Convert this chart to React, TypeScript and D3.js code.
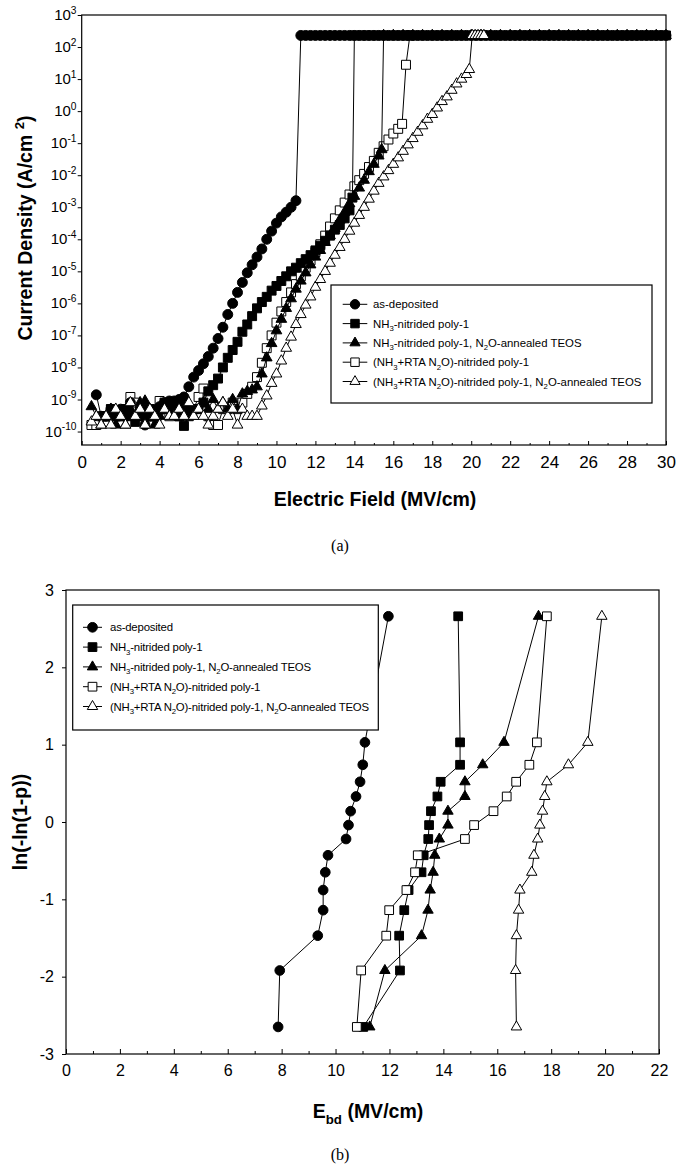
import { useEffect, useRef } from "react";
import * as d3 from "d3";

// ---------- (a) current density vs field ----------
const legendLabels = [
  "as-deposited",
  "NH_{3}-nitrided poly-1",
  "NH_{3}-nitrided poly-1, N_{2}O-annealed TEOS",
  "(NH_{3}+RTA N_{2}O)-nitrided poly-1",
  "(NH_{3}+RTA N_{2}O)-nitrided poly-1, N_{2}O-annealed TEOS",
];

const fieldAsDep = [
  0.75, 1, 1.25, 1.5, 1.75, 2, 2.25, 2.5, 2.75, 3, 3.25, 3.5, 3.75, 4, 4.25, 4.5, 4.75, 5, 5.25,
  5.5, 5.75, 6, 6.25, 6.5, 6.75, 7, 7.25, 7.5, 7.75, 8, 8.25, 8.5, 8.75, 9, 9.25, 9.5, 9.75, 10, 10.25, 10.5, 10.75, 11,
  11.25, 11.5, 11.75, 12, 12.25, 12.5, 12.75, 13, 13.25, 13.5, 13.75, 14, 14.25, 14.5, 14.75, 15, 15.25, 15.5, 15.75,
  16, 16.25, 16.5, 16.75, 17, 17.25, 17.5, 17.75, 18, 18.25, 18.5, 18.75, 19, 19.25, 19.5, 19.75, 20, 20.25, 20.5, 20.75,
  21, 21.25, 21.5, 21.75, 22, 22.25, 22.5, 22.75, 23, 23.25, 23.5, 23.75, 24, 24.25, 24.5, 24.75, 25, 25.25, 25.5, 25.75,
  26, 26.25, 26.5, 26.75, 27, 27.25, 27.5, 27.75, 28, 28.25, 28.5, 28.75, 29, 29.25, 29.5, 29.75, 30,
];
const jAsDep = [
  1.4e-9, 3e-10, 3e-10, 5e-10, 3e-10, 5e-10, 3e-10, 8e-10, 3e-10, 5e-10, 1.6e-10, 3e-10, 3.5e-10, 6e-10, 8e-10, 9e-10, 9e-10, 1e-9, 1.2e-9,
  2.5e-9, 5e-9, 8e-9, 1.3e-8, 2.2e-8, 4e-8, 8e-8, 1.8e-7, 4.5e-7, 1e-6, 2.2e-6, 4.5e-6, 9e-6, 1.6e-5, 2.8e-5, 5e-5, 1e-4, 1.8e-4, 3.2e-4, 5e-4, 7e-4, 1e-3, 1.6e-3,
  230, 230, 230, 230, 230, 230, 230, 230, 230, 230, 230, 230, 230, 230, 230, 230, 230, 230, 230,
  230, 230, 230, 230, 230, 230, 230, 230, 230, 230, 230, 230, 230, 230, 230, 230, 230, 230, 230,
  230, 230, 230, 230, 230, 230, 230, 230, 230, 230, 230, 230, 230, 230, 230, 230, 230, 230, 230,
  230, 230, 230, 230, 230, 230, 230, 230, 230, 230, 230, 230, 230, 230, 230, 230, 230, 230, 230,
];

const fieldNH3 = [
  1.25, 1.5, 1.75, 2, 2.25, 2.5, 2.75, 3, 3.25, 3.5, 3.75, 4, 4.25, 4.5, 4.75, 5, 5.25, 5.5, 5.75, 6, 6.25,
  6.5, 6.75, 7, 7.25, 7.5, 7.75, 8, 8.25, 8.5, 8.75, 9, 9.25, 9.5, 9.75, 10, 10.25, 10.5, 10.75, 11, 11.25, 11.5, 11.75,
  12, 12.25, 12.5, 12.75, 13, 13.25, 13.5, 13.75, 13.9,
  14, 14.5, 15, 15.5, 16, 16.5, 17, 17.5, 18, 18.5, 19, 19.5, 20, 20.5, 21, 21.5, 22, 22.5, 23, 23.5, 24, 24.5, 25, 25.5,
  26, 26.5, 27, 27.5, 28, 28.5, 29, 29.5, 30,
];
const jNH3 = [
  3e-10, 5e-10, 3e-10, 3e-10, 5e-10, 3e-10, 2e-10, 3e-10, 3e-10, 5e-10, 3e-10, 5e-10, 8e-10, 5e-10, 5e-10, 3e-10, 1.5e-10, 3e-10, 5e-10, 5e-10, 8e-10,
  1.8e-9, 2.8e-9, 4.5e-9, 1e-8, 2e-8, 3.5e-8, 6.3e-8, 1.3e-7, 2.2e-7, 4e-7, 7e-7, 1.1e-6, 1.6e-6, 2.5e-6, 3.5e-6, 5e-6, 7e-6, 1e-5, 1.3e-5, 1.8e-5, 2.4e-5, 3.2e-5,
  4.5e-5, 6.3e-5, 9e-5, 1.3e-4, 2e-4, 2.8e-4, 4.5e-4, 8e-4, 2e-3,
  230, 230, 230, 230, 230, 230, 230, 230, 230, 230, 230, 230, 230, 230, 230, 230, 230, 230, 230, 230, 230, 230, 230, 230, 230, 230,
  230, 230, 230, 230, 230, 230, 230,
];

const fieldNH3Teos = [
  0.5, 0.75, 1, 1.25, 1.5, 1.75, 2, 2.25, 2.5, 2.75, 3, 3.25, 3.5, 3.75, 4, 4.25, 4.5, 4.75, 5, 5.25, 5.5, 5.75, 6, 6.25,
  6.5, 6.75, 7, 7.25, 7.5, 7.75, 8, 8.25, 8.5, 8.75,
  9, 9.25, 9.5, 9.75, 10, 10.25, 10.5, 10.75, 11, 11.25, 11.5, 11.75, 12, 12.25, 12.5, 12.75, 13, 13.25, 13.5, 13.75,
  14, 14.25, 14.5, 14.75, 15, 15.25, 15.4,
  15.5, 16, 16.5, 17, 17.5, 18, 18.5, 19, 19.5, 20, 20.5, 21, 21.5, 22, 22.5, 23, 23.5, 24, 24.5, 25, 25.5, 26, 26.5, 27,
  27.5, 28, 28.5, 29, 29.5, 30,
];
const jNH3Teos = [
  6e-10, 3e-10, 1.6e-10, 3e-10, 5e-10, 1.6e-10, 3e-10, 1.6e-10, 5e-10, 3e-10, 8e-10, 9e-10, 3e-10, 1.6e-10, 3e-10, 5e-10, 3e-10, 5e-10, 8e-10, 6e-10, 5e-10, 3e-10, 5e-10, 8e-10,
  5e-10, 1e-9, 5e-10, 8e-10, 5e-10, 1e-9, 5e-10, 1.5e-9, 1.8e-9, 2e-9,
  2.5e-9, 6.3e-9, 2e-8, 5.6e-8, 1.4e-7, 3.2e-7, 7e-7, 1.4e-6, 2.8e-6, 5e-6, 9e-6, 1.6e-5, 2.8e-5, 4.5e-5, 8e-5, 1.3e-4, 2.2e-4, 4e-4, 7e-4, 1.3e-3,
  2.2e-3, 4e-3, 7e-3, 1.3e-2, 2.2e-2, 4e-2, 6.3e-2,
  230, 230, 230, 230, 230, 230, 230, 230, 230, 230, 230, 230, 230, 230, 230, 230, 230, 230, 230, 230, 230, 230, 230, 230,
  230, 230, 230, 230, 230, 230,
];

const fieldRta = [
  0.5, 0.75, 1, 1.25, 1.5, 1.75, 2, 2.25, 2.5, 2.75, 3, 3.25, 3.5, 3.75, 4, 4.25, 4.5, 4.75, 5, 5.25, 5.5, 5.75, 6, 6.25,
  6.5, 6.75, 7, 7.25, 7.5, 7.75, 8, 8.25, 8.5, 8.75,
  9, 9.25, 9.5, 9.75, 10, 10.25, 10.5, 10.75, 11, 11.25, 11.5, 11.75, 12, 12.25, 12.5, 12.75, 13, 13.25, 13.5, 13.75,
  14, 14.25, 14.5, 14.75, 15, 15.25, 15.5, 15.75, 16, 16.25, 16.45, 16.65, 16.85,
];
const jRta = [
  1.6e-10, 1.6e-10, 3e-10, 3e-10, 5e-10, 3e-10, 3e-10, 5e-10, 1.2e-9, 8e-10, 5e-10, 3e-10, 5e-10, 3e-10, 9e-10, 5e-10, 3e-10, 5e-10, 3e-10, 5e-10, 5e-10, 5e-10, 1.2e-9, 2.2e-9,
  3e-10, 1.6e-10, 1.6e-10, 5e-10, 5e-10, 8e-10, 5e-10, 8e-10, 1.5e-9, 2.5e-9,
  5e-9, 1.4e-8, 4e-8, 1e-7, 2.5e-7, 5.6e-7, 1.1e-6, 2.2e-6, 4e-6, 7e-6, 1.3e-5, 2.2e-5, 4e-5, 7e-5, 1.3e-4, 2.5e-4, 4.5e-4, 8e-4, 1.4e-3, 2.5e-3,
  4.5e-3, 7e-3, 1.1e-2, 1.8e-2, 2.8e-2, 5e-2, 8e-2, 0.13, 0.2, 0.28, 0.4, 28, 230,
];

const fieldRtaTeos = [
  0.5, 0.75, 1, 1.25, 1.5, 1.75, 2, 2.25, 2.5, 2.75, 3, 3.25, 3.5, 3.75, 4, 4.25, 4.5, 4.75, 5, 5.25, 5.5, 5.75, 6, 6.25,
  6.5, 6.75, 7, 7.25, 7.5, 7.75, 8, 8.25, 8.5, 8.75, 9,
  9.25, 9.5, 9.75, 10, 10.25, 10.5, 10.75, 11, 11.25, 11.5, 11.75, 12, 12.25, 12.5, 12.75, 13, 13.25, 13.5, 13.75, 14,
  14.25, 14.5, 14.75, 15, 15.25, 15.5, 15.75, 16, 16.25, 16.5, 16.75, 17, 17.25, 17.5, 17.75, 18, 18.25, 18.5, 18.75,
  19, 19.25, 19.5, 19.75, 19.9, 20.05, 20.2, 20.35, 20.5, 20.65,
];
const jRtaTeos = [
  2e-10, 3e-10, 1.6e-10, 3e-10, 1.6e-10, 5e-10, 3e-10, 1.6e-10, 8e-10, 3e-10, 5e-10, 1.6e-10, 5e-10, 3e-10, 1.6e-10, 5e-10, 3e-10, 3e-10, 5e-10, 3e-10, 8e-10, 3e-10, 5e-10, 3e-10,
  1.6e-10, 3e-10, 5e-10, 8e-10, 3e-10, 5e-10, 1.6e-10, 5e-10, 3e-10, 3e-10, 3e-10,
  6.3e-10, 1.3e-9, 3.2e-9, 6.3e-9, 1.6e-8, 4e-8, 8.9e-8, 2.2e-7, 4.5e-7, 8.9e-7, 1.6e-6, 3.2e-6, 5.6e-6, 1e-5, 1.8e-5, 3.2e-5, 5.6e-5, 1e-4, 1.8e-4, 3.2e-4,
  5.6e-4, 1e-3, 1.8e-3, 3.2e-3, 5.6e-3, 8.9e-3, 1.4e-2, 2.2e-2, 3.5e-2, 5.6e-2, 8.9e-2, 0.14, 0.22, 0.35, 0.56, 0.79, 1.26, 2, 2.8,
  4.5, 7.1, 10, 14, 20, 230, 230, 230, 230, 230,
];

// ---------- (b) Weibull plot ----------
const weibullY = [-2.65, -1.92, -1.47, -1.14, -0.88, -0.65, -0.43, -0.22, -0.04, 0.14, 0.33, 0.52, 0.74, 1.03, 2.66];
const ebdAsDep = [7.87, 7.93, 9.34, 9.54, 9.54, 9.62, 9.72, 10.39, 10.48, 10.56, 10.76, 10.91, 11.01, 11.09, 11.96];
const ebdNH3 = [11.03, 12.39, 12.36, 12.55, 12.71, 13.19, 13.27, 13.44, 13.47, 13.54, 13.78, 13.9, 14.62, 14.62, 14.55];
const ebdNH3Teos = [11.27, 11.83, 13.19, 13.43, 13.51, 13.62, 13.68, 13.85, 14.17, 14.17, 14.8, 14.8, 15.46, 16.25, 17.53];
const ebdRta = [10.79, 10.95, 11.88, 11.99, 12.63, 12.95, 13.05, 14.8, 15.14, 15.86, 16.35, 16.7, 17.19, 17.47, 17.84];
const ebdRtaTeos = [16.71, 16.68, 16.71, 16.79, 16.84, 17.28, 17.36, 17.5, 17.58, 17.68, 17.76, 17.84, 18.64, 19.36, 19.88];

const shapes = ["circle", "square", "triangle", "square", "triangle"];
const filled = [true, true, true, false, false];

const FONT = "'Liberation Sans', Arial, Helvetica, sans-serif";

// text with _{sub} and ^{sup} pieces
function rich(text: any, s: string, size: number) {
  const parts = s.split(/([_^]\{[^}]*\})/).filter((p) => p !== "");
  let off = 0;
  for (const p of parts) {
    const m = p.match(/^([_^])\{(.*)\}$/);
    const target = m ? (m[1] === "_" ? size * 0.3 : -size * 0.42) : 0;
    text
      .append("tspan")
      .attr("dy", target - off)
      .attr("font-size", m ? size * 0.68 : size)
      .text(m ? m[2] : p);
    off = target;
  }
}

function marker(g: any, i: number, x: number, y: number, size: number) {
  const type = shapes[i] === "circle" ? d3.symbolCircle : shapes[i] === "square" ? d3.symbolSquare : d3.symbolTriangle;
  g.append("path")
    .attr("d", d3.symbol().type(type).size(size * (shapes[i] === "triangle" ? 0.62 : shapes[i] === "square" ? 1 : 0.97))())
    .attr("transform", `translate(${x},${y})`)
    .attr("fill", filled[i] ? "#000" : "#fff")
    .attr("stroke", "#000")
    .attr("stroke-width", 1);
}

function App() {
  const svgRef = useRef<SVGSVGElement>(null);

  useEffect(() => {
    const svg = d3.select(svgRef.current);
    svg.selectAll("*").remove();

    // ================= (a) =================
    const xA = d3.scaleLinear().domain([0, 30]).range([81.7, 666]);
    const yA = d3.scaleLog().domain([Math.pow(10, -10.42), 1e3]).range([445, 15]);

    const gxA = svg
      .append("g")
      .attr("transform", "translate(0,445)")
      .call(d3.axisBottom(xA).tickValues(d3.range(0, 31, 2)).tickSize(-4).tickPadding(11).tickFormat((d) => String(d)));
    gxA.select(".domain").remove();
    gxA.selectAll("text").attr("font-size", 17).attr("font-family", FONT);
    const gxAm = svg
      .append("g")
      .attr("transform", "translate(0,445)")
      .call(d3.axisBottom(xA).tickValues(d3.range(1, 30, 2)).tickSize(-2).tickFormat(() => ""));
    gxAm.select(".domain").remove();

    const decades = d3.range(-10, 4);
    const gyA = svg
      .append("g")
      .attr("transform", "translate(81.7,0)")
      .call(d3.axisLeft(yA).tickValues(decades.map((e) => Math.pow(10, e))).tickSize(4).tickFormat(() => ""));
    gyA.select(".domain").remove();
    decades.forEach((e) => {
      const t = svg
        .append("text")
        .attr("x", 76.5)
        .attr("y", yA(Math.pow(10, e)) + 5)
        .attr("text-anchor", "end")
        .attr("font-family", FONT)
        .attr("font-size", 15);
      rich(t, `10^{${e}}`, 15);
    });

    svg.append("rect").attr("x", 81.7).attr("y", 15).attr("width", 666 - 81.7).attr("height", 430)
      .attr("fill", "none").attr("stroke", "#000").attr("stroke-width", 1.2);

    const seriesA = [
      [fieldAsDep, jAsDep],
      [fieldNH3, jNH3],
      [fieldNH3Teos, jNH3Teos],
      [fieldRta, jRta],
      [fieldRtaTeos, jRtaTeos],
    ];
    // open squares go under the filled series so the compliance band stays black
    [3, 0, 1, 2, 4].forEach((i) => {
      const [xs, ys] = seriesA[i];
      const pts: [number, number][] = xs.map((x, k) => [xA(x), yA(ys[k])]);
      const g = svg.append("g");
      g.append("path").attr("d", d3.line()(pts)).attr("fill", "none").attr("stroke", "#000").attr("stroke-width", 1);
      pts.forEach(([px, py]) => marker(g, i, px, py, 80));
    });

    // legend (a)
    const lgA = svg.append("g");
    lgA.append("rect").attr("x", 331).attr("y", 285).attr("width", 321).attr("height", 118)
      .attr("fill", "#fff").attr("stroke", "#000").attr("stroke-width", 1.2);
    legendLabels.forEach((lab, i) => {
      const cy = 304.3 + i * 19.3;
      lgA.append("line").attr("x1", 342.7).attr("x2", 367.3).attr("y1", cy).attr("y2", cy).attr("stroke", "#000");
      marker(lgA, i, 355, cy, 72);
      const t = lgA.append("text").attr("x", 373).attr("y", cy + 4).attr("font-family", FONT).attr("font-size", 11.4);
      rich(t, lab, 11.4);
    });

    const tyA = svg.append("text").attr("transform", "translate(32,228) rotate(-90)")
      .attr("text-anchor", "middle").attr("font-family", FONT).attr("font-weight", "bold").attr("font-size", 19.5);
    rich(tyA, "Current Density (A/cm ^{2})", 19.5);
    svg.append("text").attr("x", 375).attr("y", 506).attr("text-anchor", "middle").attr("font-family", FONT)
      .attr("font-weight", "bold").attr("font-size", 19.5).text("Electric Field (MV/cm)");
    svg.append("text").attr("x", 340).attr("y", 551).attr("text-anchor", "middle")
      .attr("font-family", "'Liberation Serif', 'Times New Roman', serif").attr("font-size", 16).text("(a)");

    // ================= (b) =================
    const xB = d3.scaleLinear().domain([0, 22]).range([66, 659]);
    const yB = d3.scaleLinear().domain([-3, 3]).range([1054, 590]);

    const gxB = svg.append("g").attr("transform", "translate(0,1054)")
      .call(d3.axisBottom(xB).tickValues(d3.range(0, 23, 2)).tickSize(-5).tickPadding(11).tickFormat((d) => String(d)));
    gxB.select(".domain").remove();
    gxB.selectAll("text").attr("font-size", 16).attr("font-family", FONT);
    const gxBm = svg.append("g").attr("transform", "translate(0,1054)")
      .call(d3.axisBottom(xB).tickValues(d3.range(1, 22, 2)).tickSize(-3).tickFormat(() => ""));
    gxBm.select(".domain").remove();

    const gyB = svg.append("g").attr("transform", "translate(66,0)")
      .call(d3.axisLeft(yB).tickValues(d3.range(-3, 4)).tickSize(4).tickPadding(8).tickFormat((d) => String(d)));
    gyB.select(".domain").remove();
    gyB.selectAll("text").attr("font-size", 16).attr("font-family", FONT);

    svg.append("rect").attr("x", 66).attr("y", 590).attr("width", 659 - 66).attr("height", 1054 - 590)
      .attr("fill", "none").attr("stroke", "#000").attr("stroke-width", 1.2);

    const seriesB = [ebdAsDep, ebdNH3, ebdNH3Teos, ebdRta, ebdRtaTeos];
    seriesB.forEach((xs, i) => {
      const pts: [number, number][] = xs.map((x, k) => [xB(x), yB(weibullY[k])]);
      const g = svg.append("g");
      g.append("path").attr("d", d3.line()(pts)).attr("fill", "none").attr("stroke", "#000").attr("stroke-width", 1);
      pts.forEach(([px, py]) => marker(g, i, px, py, 76));
    });

    // legend (b)
    const lgB = svg.append("g");
    lgB.append("rect").attr("x", 72.7).attr("y", 605).attr("width", 305.6).attr("height", 125)
      .attr("fill", "#fff").attr("stroke", "#000").attr("stroke-width", 1.2);
    legendLabels.forEach((lab, i) => {
      const cy = 627.3 + i * 19.8;
      lgB.append("line").attr("x1", 83).attr("x2", 102).attr("y1", cy).attr("y2", cy).attr("stroke", "#000");
      marker(lgB, i, 92.5, cy, 76);
      const t = lgB.append("text").attr("x", 110).attr("y", cy + 4).attr("font-family", FONT).attr("font-size", 11.4)
        .attr("letter-spacing", -0.2);
      rich(t, lab, 11.4);
    });

    svg.append("text").attr("transform", "translate(27,822) rotate(-90)").attr("text-anchor", "middle")
      .attr("font-family", FONT).attr("font-weight", "bold").attr("font-size", 19.5).text("ln(-ln(1-p))");
    const txB = svg.append("text").attr("x", 368).attr("y", 1118).attr("text-anchor", "middle")
      .attr("font-family", FONT).attr("font-weight", "bold").attr("font-size", 19.5);
    rich(txB, "E_{bd} (MV/cm)", 19.5);
    svg.append("text").attr("x", 340).attr("y", 1160).attr("text-anchor", "middle")
      .attr("font-family", "'Liberation Serif', 'Times New Roman', serif").attr("font-size", 16).text("(b)");
  }, []);

  return (
    <svg
      ref={svgRef}
      width={677}
      height={1167}
      style={{ position: "absolute", left: 0, top: 0, background: "#fff" }}
    ></svg>
  );
}

export default App;
